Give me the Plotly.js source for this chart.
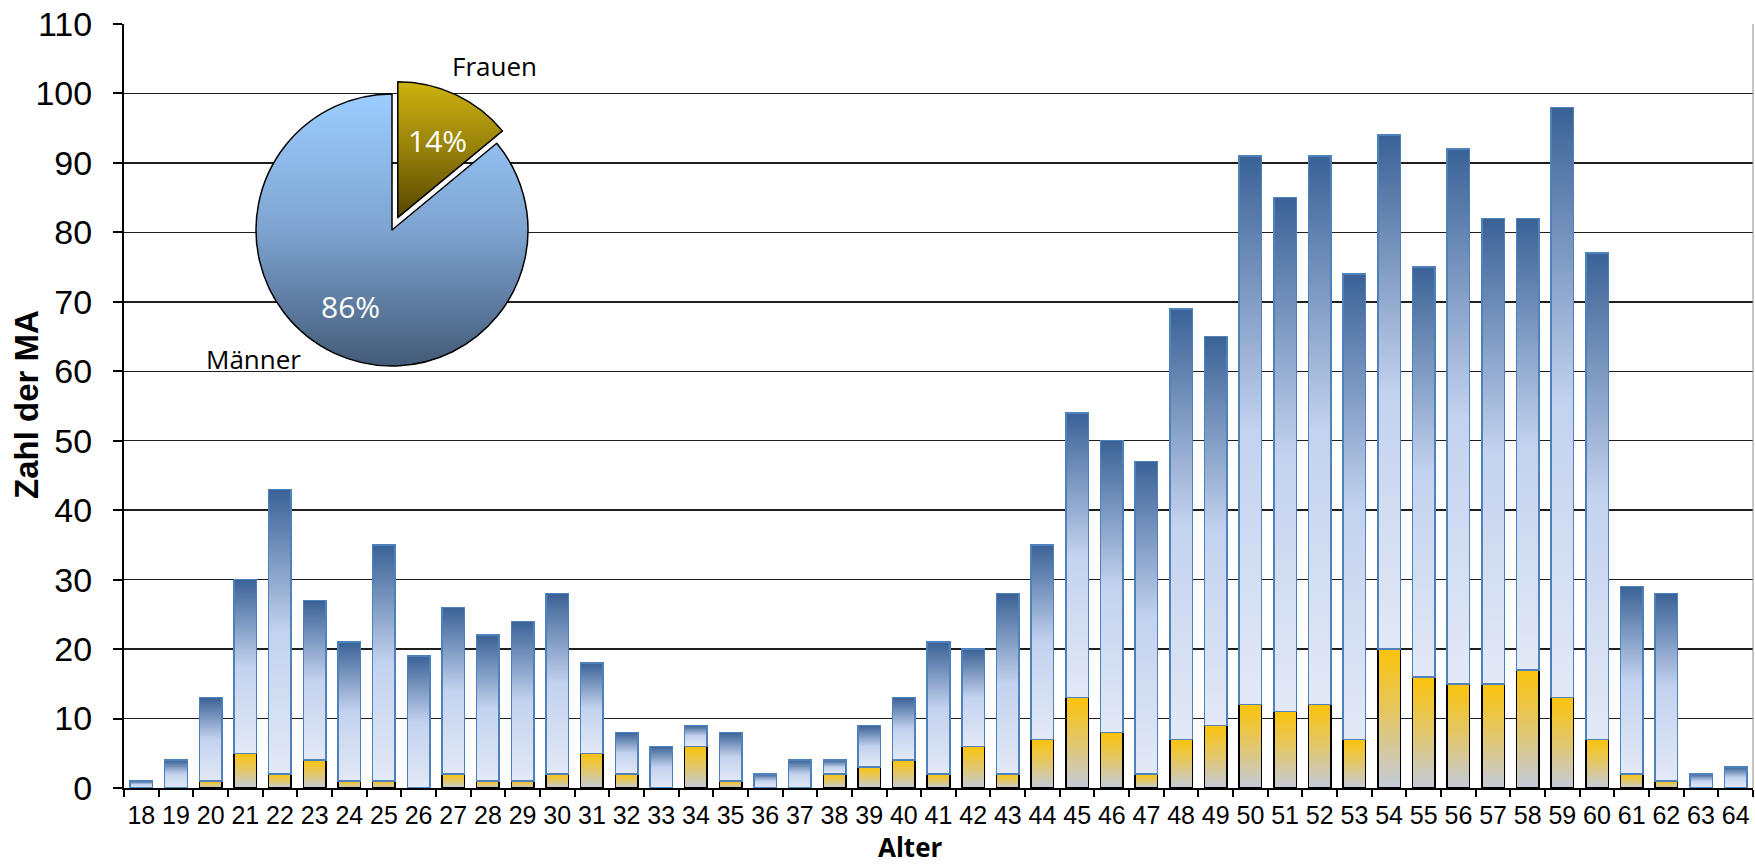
<!DOCTYPE html>
<html>
<head>
<meta charset="utf-8">
<script src="https://cdn.plot.ly/plotly-3.0.1.min.js"></script>
<style>
  html, body { margin: 0; padding: 0; background: #ffffff; }
  #chart { width: 1755px; height: 866px; }
</style>
</head>
<body>
<div id="chart"></div>
<script>
// Altersstruktur der Mitarbeiter: Frauen (unten) und Männer (oben), gestapelt
const alter = ['18','19','20','21','22','23','24','25','26','27','28','29','30','31','32','33',
               '34','35','36','37','38','39','40','41','42','43','44','45','46','47','48','49',
               '50','51','52','53','54','55','56','57','58','59','60','61','62','63','64'];
const frauen = [0, 0, 1, 5, 2, 4, 1, 1, 0, 2, 1, 1, 2, 5, 2, 0,
                6, 1, 0, 0, 2, 3, 4, 2, 6, 2, 7, 13, 8, 2, 7, 9,
                12, 11, 12, 7, 20, 16, 15, 15, 17, 13, 7, 2, 1, 0, 0];
const maenner = [1, 4, 12, 25, 41, 23, 20, 34, 19, 24, 21, 23, 26, 13, 6, 6,
                 3, 7, 2, 4, 2, 6, 9, 19, 14, 26, 28, 41, 42, 45, 62, 56,
                 79, 74, 79, 67, 74, 59, 77, 67, 65, 85, 70, 27, 27, 2, 3];
const yTicks = [0, 10, 20, 30, 40, 50, 60, 70, 80, 90, 100, 110];
const pieLabels = ['Frauen', 'Männer'];

const sum = a => a.reduce((s, v) => s + v, 0);
const pieValues = [sum(frauen), sum(maenner)];
const pieTotal = pieValues[0] + pieValues[1];
const pct = v => Math.round(100 * v / pieTotal) + '%';

// page geometry
const W = 1755, H = 866;
const M = { l: 124, r: 2, t: 24, b: 78 };
const PW = W - M.l - M.r, PH = H - M.t - M.b;
const fx = px => (px - M.l) / PW;
const fy = py => (H - M.b - py) / PH;

// pie box: centre and radius in pixels
const pieCx = 392, pieCy = 230, pieR = 136, piePull = 0.1;
const half = pieR * (1 + piePull);

const tickFont = { family: 'Liberation Sans, Arial, sans-serif', color: '#000000' };
const calFont = 'Open Sans, Noto Sans, sans-serif';

const traces = [
  {
    type: 'bar', name: 'Frauen', x: alter, y: frauen,
    marker: { color: '#f5c21a', line: { color: '#000000', width: 1.5 } },
    hoverinfo: 'skip'
  },
  {
    type: 'bar', name: 'Männer', x: alter, y: maenner,
    marker: { color: '#8aa8d4', line: { color: '#4f81bd', width: 1.5 } },
    hoverinfo: 'skip'
  },
  {
    type: 'pie', labels: pieLabels, values: pieValues,
    sort: false, direction: 'clockwise', rotation: 0,
    pull: [piePull, 0],
    textinfo: 'none', hoverinfo: 'skip', showlegend: false,
    marker: { colors: ['#a38a08', '#7fa6d6'], line: { color: '#000000', width: 1.5 } },
    domain: { x: [fx(pieCx - half), fx(pieCx + half)], y: [fy(pieCy + half), fy(pieCy - half)] }
  }
];

const layout = {
  width: W, height: H,
  margin: M,
  paper_bgcolor: '#ffffff', plot_bgcolor: '#ffffff',
  showlegend: false,
  barmode: 'stack',
  bargap: 0.35,
  xaxis: {
    type: 'category',
    showline: true, linecolor: '#000000', linewidth: 2,
    ticks: 'outside', tickson: 'boundaries', ticklen: 7, tickwidth: 2, tickcolor: '#000000',
    tickfont: Object.assign({ size: 25 }, tickFont),
    tickangle: 0,
    ticklabelstandoff: 4,
    showgrid: false, zeroline: false, fixedrange: true
  },
  yaxis: {
    range: [0, 110],
    tickvals: yTicks, ticktext: yTicks.map(String),
    showline: true, linecolor: '#000000', linewidth: 2,
    ticks: 'outside', ticklen: 9, tickwidth: 2, tickcolor: '#000000',
    tickfont: Object.assign({ size: 34 }, tickFont),
    ticklabelstandoff: 14,
    showgrid: true, gridcolor: '#1e1e1e', gridwidth: 1.5,
    zeroline: false, fixedrange: true
  },
  shapes: [
    { type: 'line', xref: 'paper', yref: 'paper', x0: 1, x1: 1, y0: 0, y1: 1,
      line: { color: '#8c8c8c', width: 1 } }
  ],
  annotations: [
    { text: '<b>Zahl der MA</b>', xref: 'paper', yref: 'paper', x: fx(27), y: fy(405),
      textangle: -90, showarrow: false, xanchor: 'center', yanchor: 'middle',
      font: { family: 'Liberation Sans, Arial, sans-serif', size: 33, color: '#000000' } },
    { text: '<b>Alter</b>', xref: 'paper', yref: 'paper', x: fx(910), y: fy(866),
      showarrow: false, xanchor: 'center', yanchor: 'bottom', borderpad: 0,
      font: { family: calFont, size: 26, color: '#000000' } },
    { text: pieLabels[0], xref: 'paper', yref: 'paper', x: fx(494), y: fy(66),
      showarrow: false, xanchor: 'center', yanchor: 'middle',
      font: { family: calFont, size: 26, color: '#000000' } },
    { text: pieLabels[1], xref: 'paper', yref: 'paper', x: fx(253), y: fy(359),
      showarrow: false, xanchor: 'center', yanchor: 'middle',
      font: { family: calFont, size: 26, color: '#000000' } },
    { text: pct(pieValues[0]), xref: 'paper', yref: 'paper', x: fx(437), y: fy(140),
      showarrow: false, xanchor: 'center', yanchor: 'middle',
      font: { family: calFont, size: 30, color: '#ffffff' } },
    { text: pct(pieValues[1]), xref: 'paper', yref: 'paper', x: fx(350), y: fy(306),
      showarrow: false, xanchor: 'center', yanchor: 'middle',
      font: { family: calFont, size: 30, color: '#ffffff' } }
  ]
};

// vertical gradient fills for bars and pie slices
function addGradient(svg, id, stops) {
  const ns = 'http://www.w3.org/2000/svg';
  let defs = svg.querySelector('defs');
  if (!defs) { defs = document.createElementNS(ns, 'defs'); svg.insertBefore(defs, svg.firstChild); }
  const g = document.createElementNS(ns, 'linearGradient');
  g.setAttribute('id', id);
  g.setAttribute('x1', '0'); g.setAttribute('y1', '0');
  g.setAttribute('x2', '0'); g.setAttribute('y2', '1');
  stops.forEach(([o, c]) => {
    const s = document.createElementNS(ns, 'stop');
    s.setAttribute('offset', o);
    s.setAttribute('stop-color', c);
    g.appendChild(s);
  });
  defs.appendChild(g);
}

function applyGradients(gd) {
  const svg = gd.querySelector('svg.main-svg');
  addGradient(svg, 'gradFrauen', [[0, '#fbc30b'], [0.5, '#e2c76c'], [1, '#c4cbdb']]);
  addGradient(svg, 'gradMaenner', [[0, '#3a6296'], [0.5, '#c3d2ee'], [1, '#e3e9f6']]);
  addGradient(svg, 'gradPieF', [[0, '#cdb20e'], [0.5, '#96800a'], [1, '#574700']]);
  addGradient(svg, 'gradPieM', [[0, '#9ccdfe'], [0.5, '#7ea4d1'], [1, '#435a77']]);

  const barTraces = gd.querySelectorAll('.barlayer .trace');
  const barFills = ['url(#gradFrauen)', 'url(#gradMaenner)'];
  barTraces.forEach((t, i) => {
    t.querySelectorAll('path').forEach(p => { p.style.fill = barFills[i]; });
  });
  const slices = gd.querySelectorAll('.pielayer .slice path.surface');
  const pieFills = ['url(#gradPieF)', 'url(#gradPieM)'];
  slices.forEach((p, i) => { p.style.fill = pieFills[i]; });
}

const gd = document.getElementById('chart');
Plotly.newPlot(gd, traces, layout, { displayModeBar: false, staticPlot: true })
  .then(applyGradients);
</script>
</body>
</html>
